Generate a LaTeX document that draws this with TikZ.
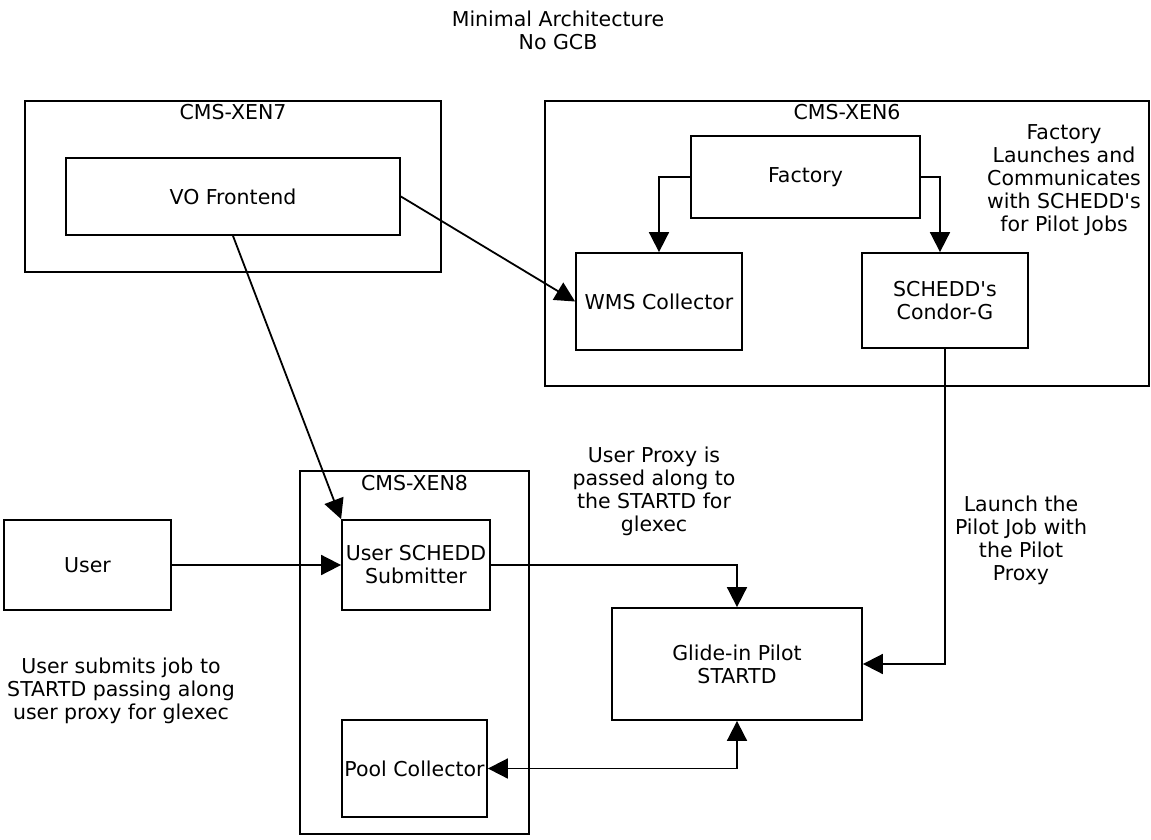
\documentclass[tikz,border=0pt]{standalone}
\usepackage{fontspec}
\setmainfont{DejaVu Sans}
\usetikzlibrary{arrows.meta}
\begin{document}
\begin{tikzpicture}[x=1pt,y=-1pt,
  every node/.style={font=\fontsize{20.5}{23}\selectfont, align=center, inner sep=0pt},
  box/.style={draw, line width=1.8pt},
  conn/.style={line width=1.8pt, -{Triangle[length=20pt,width=20pt]}},
  bconn/.style={line width=1.8pt, {Triangle[length=20pt,width=20pt]}-{Triangle[length=20pt,width=20pt]}},
  note/.style={align=center}]
\useasboundingbox (0,0) rectangle (1151,840);
% title
\node[note] (title) at (558,30) {Minimal Architecture\\No GCB};
% containers
\node[box, minimum width=416pt, minimum height=171pt] (xen7) at (233,186.5) {};
\node (xen7l) at (233,112) {CMS-XEN7};
\node[box, minimum width=604pt, minimum height=285pt] (xen6) at (847,243.5) {};
\node (xen6l) at (847,112) {CMS-XEN6};
\node[box, minimum width=229pt, minimum height=363pt] (xen8) at (414.5,652.5) {};
\node (xen8l) at (414.5,483) {CMS-XEN8};
% nodes
\node[box, minimum width=334pt, minimum height=77pt] (vo) at (233,196.5) {VO Frontend};
\node[box, minimum width=229pt, minimum height=82pt] (factory) at (805.5,177) {Factory};
\node[box, minimum width=166pt, minimum height=97pt] (wms) at (659,301.5) {WMS Collector};
\node[box, minimum width=166pt, minimum height=95pt] (schedd) at (945,300.5) {SCHEDD\textquotesingle s\\Condor-G};
\node[box, minimum width=167pt, minimum height=90pt] (user) at (87.5,565) {User};
\node[box, minimum width=148pt, minimum height=90pt] (sub) at (416,565) {User SCHEDD\\Submitter};
\node[box, minimum width=145pt, minimum height=97pt] (pool) at (414.5,768.5) {Pool Collector};
\node[box, minimum width=250pt, minimum height=112pt] (glide) at (737,664) {Glide-in Pilot\\STARTD};
% notes
\node[note] (n1) at (1064,180) {Factory\\Launches and\\Communicates\\with SCHEDD\textquotesingle s\\ for Pilot Jobs};
\node[note] (n2) at (121,691) {User submits job to\\STARTD passing along\\user proxy for glexec};
\node[note] (n3) at (654,491) {User Proxy is\\passed along to\\the STARTD for\\glexec};
\node[note] (n4) at (1021,540) {Launch the\\Pilot Job with\\the Pilot\\Proxy};
% connectors
\draw[conn] (factory.west) -| (wms.north);
\draw[conn] (factory.east) -| ([xshift=-5pt]schedd.north);
\draw[conn] (vo.east) -- (wms.west);
\draw[conn] (vo.south) -- (sub.north west);
\draw[conn] (user.east) -- (sub.west);
\draw[conn] (sub.east) -| (glide.north);
\draw[conn] (schedd.south) |- (glide.east);
\draw[bconn] (pool.east) -| (glide.south);
\end{tikzpicture}
\end{document}
